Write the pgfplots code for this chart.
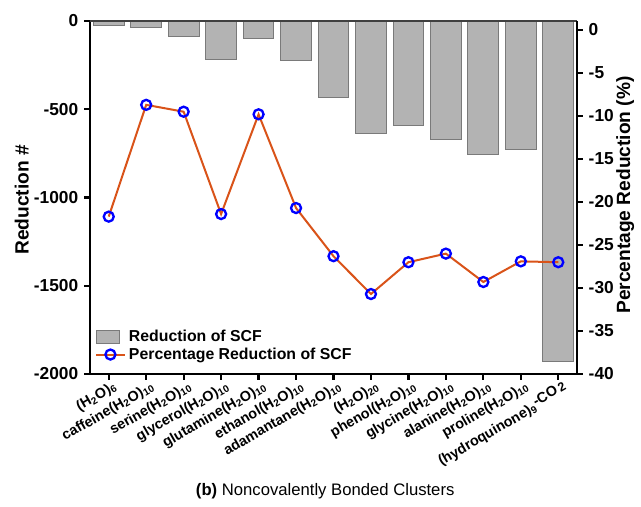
\documentclass[border=0pt]{standalone}
\usepackage{fontspec}
\setmainfont{Liberation Sans}
\usepackage{pgfplots}
\pgfplotsset{compat=1.18}
\definecolor{barfill}{HTML}{B3B3B3}
\definecolor{baredge}{HTML}{7A7A7A}
\definecolor{lineorange}{HTML}{D95319}
\newcommand{\sub}[1]{\textsubscript{#1}}
\pgfplotsset{
  barlegend/.style={legend image code/.code={\draw[##1] (0cm,-0.14cm) rectangle (0.5cm,0.14cm);}},
  common/.style={
    width=292.2pt, height=211.8pt, scale only axis,
    at={(0,0)}, anchor=south west,
    xmin=-0.5, xmax=12.5,
    tick align=outside, major tick length=3.5pt,
    tick style={black, line width=1.3pt},
    axis line style={black, line width=1.5pt},
    /pgf/number format/assume math mode=true,
    /pgf/number format/1000 sep={},
    scaled y ticks=false,
    y tick label style={font=\bfseries\fontsize{10.4}{12}\selectfont},
  },
  linestyle/.style={lineorange, line width=1.2pt, mark=o, mark size=3pt,
    mark options={draw=blue, fill=white, line width=1.4pt}},
}

\begin{document}
\begin{tikzpicture}
\begin{axis}[common,
  axis x line*=bottom, axis y line*=left,
  ymin=-2000, ymax=0, ytick={-2000,-1500,-1000,-500,0},
  xtick={0,...,12},
  xticklabels={{(H\sub{2}O)\sub{6}}, {caffeine(H\sub{2}O)\sub{10}}, {serine(H\sub{2}O)\sub{10}},
    {glycerol(H\sub{2}O)\sub{10}}, {glutamine(H\sub{2}O)\sub{10}}, {ethanol(H\sub{2}O)\sub{10}},
    {adamantane(H\sub{2}O)\sub{10}}, {(H\sub{2}O)\sub{20}}, {phenol(H\sub{2}O)\sub{10}},
    {glycine(H\sub{2}O)\sub{10}}, {alanine(H\sub{2}O)\sub{10}}, {proline(H\sub{2}O)\sub{10}},
    {(hydroquinone)\sub{9}\raisebox{0.55ex}{-CO\,{\fontsize{7.5}{9}\selectfont 2}}}},
  x tick label style={font=\bfseries\fontsize{8.6}{10}\selectfont, rotate=30, anchor=north east,
    inner sep=1pt, xshift=3pt},
  ylabel={Reduction \#},
  every axis y label/.style={at={(axis description cs:-0.14,0.493)}, rotate=90, anchor=center,
    font=\bfseries\fontsize{11.5}{13}\selectfont},
  legend style={at={(axis description cs:0.01,0.025)}, anchor=south west, draw=none, fill=none,
    font=\bfseries\fontsize{9.5}{11}\selectfont, inner sep=0pt, row sep=-2pt},
  legend cell align=left,
]
\addplot[ybar, bar width=0.82, fill=barfill, draw=baredge, line width=0.6pt, barlegend]
  coordinates {(0,-23) (1,-36) (2,-85) (3,-216) (4,-98) (5,-224) (6,-434)
    (7,-636) (8,-591) (9,-670) (10,-757) (11,-729) (12,-1930)};
\addlegendentry{Reduction of SCF}
\addlegendimage{linestyle}
\addlegendentry{Percentage Reduction of SCF}
\end{axis}
\begin{axis}[common,
  axis y line*=right, axis x line*=top, xtick=\empty,
  x axis line style={line width=0.8pt, draw=black!75},
  ymin=-40, ymax=1.05, ytick={-40,-35,...,0},
  ylabel={Percentage Reduction (\%)},
  every axis y label/.style={at={(axis description cs:1.099,0.507)}, rotate=90, anchor=center,
    font=\bfseries\fontsize{11.5}{13}\selectfont},
]
\addplot[linestyle] coordinates {(0,-21.7) (1,-8.7) (2,-9.5) (3,-21.4) (4,-9.8) (5,-20.7)
  (6,-26.3) (7,-30.7) (8,-27.0) (9,-26.0) (10,-29.3) (11,-26.9) (12,-27.0)};
\coordinate (cap) at (axis description cs:0.483,-0.331);
\end{axis}
\node[font=\fontsize{10}{12}\selectfont] at (cap) {\textbf{(b)} Noncovalently Bonded Clusters};
\pgfresetboundingbox
\path (-54pt,-79.2pt) rectangle (330.6pt,224.4pt);
\end{tikzpicture}
\end{document}
